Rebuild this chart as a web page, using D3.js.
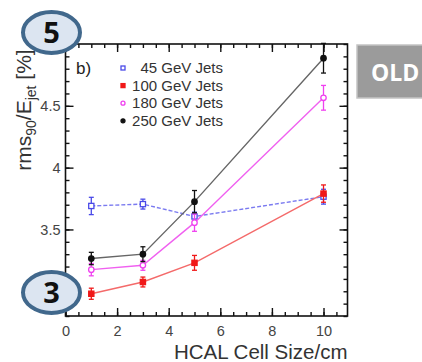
<!DOCTYPE html>
<html>
<head>
<meta charset="utf-8">
<script src="https://cdn.jsdelivr.net/npm/d3@7"></script>
<style>
  body { margin: 0; background: #fff; }
  svg { display: block; font-family: "Liberation Sans", Arial, sans-serif; }
</style>
</head>
<body>
<svg id="chart" width="422" height="362"></svg>
<script>
// data
var cellSizes = [1, 3, 5, 10];
var seriesNames = ["45 GeV Jets", "100 GeV Jets", "180 GeV Jets", "250 GeV Jets"];
var rms45 = [3.69, 3.705, 3.605, 3.765];
var err45 = [0.07, 0.04, 0.035, 0.06];
var rms100 = [2.98, 3.075, 3.23, 3.79];
var err100 = [0.045, 0.04, 0.06, 0.07];
var rms180 = [3.175, 3.21, 3.555, 4.565];
var err180 = [0.05, 0.04, 0.07, 0.1];
var rms250 = [3.265, 3.3, 3.725, 4.885];
var err250 = [0.05, 0.06, 0.09, 0.12];
var xTicks = [0, 2, 4, 6, 8, 10];
var yTicks = [3.5, 4, 4.5];

var svg = d3.select("#chart");
var pLeft = 65.5, pRight = 347.5, pTop = 44, pBottom = 316;

var x = d3.scaleLinear().domain([0, 10.93]).range([pLeft, pRight]);
var y = d3.scaleLinear().domain([2.8, 5.0]).range([pBottom, pTop]);

// styles per series
var styles = [
    {color: "#4a4ae8", line: "#7a7af0", dash: "4,2", shape: "square", fill: "none"},
    {color: "#f01818", line: "#f46a6a", dash: null, shape: "square", fill: "#f01818"},
    {color: "#f040f0", line: "#f060f0", dash: null, shape: "circle", fill: "none"},
    {color: "#111", line: "#666", dash: null, shape: "circle", fill: "#111"}
];
var values = [rms45, rms100, rms180, rms250];
var errors = [err45, err100, err180, err250];

// frame
svg.append("rect")
    .attr("x", pLeft).attr("y", pTop)
    .attr("width", pRight - pLeft).attr("height", pBottom - pTop)
    .attr("fill", "none").attr("stroke", "#111").attr("stroke-width", 1.6);

var minorX = d3.range(0, 10.93, 0.5);
var minorY = d3.range(2.8, 5.001, 0.1);

function tickAxis(axisFn, scale, vals, size, pos, labels) {
    var ax = axisFn(scale).tickValues(vals).tickSizeInner(size).tickSizeOuter(0);
    ax.tickFormat(labels ? d3.format("~g") : "");
    var g = svg.append("g").attr("transform", pos).call(ax);
    g.select(".domain").remove();
    g.selectAll(".tick line").attr("stroke", "#111").attr("stroke-width", 1.4);
    return g;
}

// bottom / top
tickAxis(d3.axisBottom, x, minorX, -4, "translate(0," + pBottom + ")", false);
var xa = tickAxis(d3.axisBottom, x, xTicks, -8, "translate(0," + pBottom + ")", true);
xa.selectAll("text").attr("font-size", 14.5).attr("fill", "#444").attr("y", 10).attr("dy", "0.71em");
tickAxis(d3.axisTop, x, minorX, -4, "translate(0," + pTop + ")", false);
tickAxis(d3.axisTop, x, xTicks, -8, "translate(0," + pTop + ")", false);

// left / right
tickAxis(d3.axisLeft, y, minorY, -4, "translate(" + pLeft + ",0)", false);
var ya = tickAxis(d3.axisLeft, y, yTicks, -8, "translate(" + pLeft + ",0)", true);
ya.selectAll("text").attr("font-size", 14.5).attr("fill", "#444").attr("x", -5);
tickAxis(d3.axisRight, y, minorY, -4, "translate(" + pRight + ",0)", false);
tickAxis(d3.axisRight, y, yTicks, -8, "translate(" + pRight + ",0)", false);

// axis titles
svg.append("text")
    .attr("x", pRight).attr("y", 359)
    .attr("text-anchor", "end")
    .attr("font-size", 20.5).attr("fill", "#333")
    .text("HCAL Cell Size/cm");

var yt = svg.append("text")
    .attr("transform", "translate(31,110) rotate(-90)")
    .attr("text-anchor", "middle")
    .attr("font-size", 21).attr("fill", "#333");
yt.append("tspan").text("rms");
yt.append("tspan").attr("font-size", 14).attr("dy", 5).text("90");
yt.append("tspan").attr("dy", -5).text("/E");
yt.append("tspan").attr("font-size", 14).attr("dy", 5).text("jet");
yt.append("tspan").attr("dy", -5).text(" [%]");

svg.append("text")
    .attr("x", 76).attr("y", 74)
    .attr("font-size", 17).attr("fill", "#222")
    .text("b)");

// series
var line = d3.line()
    .x(function (d) { return x(d[0]); })
    .y(function (d) { return y(d[1]); });

function drawMarker(g, shape, cx, cy, st, size) {
    if (shape === "square") {
        g.append("rect")
            .attr("x", cx - size).attr("y", cy - size)
            .attr("width", size * 2).attr("height", size * 2)
            .attr("fill", st.fill === "none" ? "#fff" : st.fill)
            .attr("stroke", st.color).attr("stroke-width", 1.3);
    } else {
        g.append("circle")
            .attr("cx", cx).attr("cy", cy).attr("r", size)
            .attr("fill", st.fill === "none" ? "#fff" : st.fill)
            .attr("stroke", st.color).attr("stroke-width", 1.3);
    }
}

values.forEach(function (vals, i) {
    var st = styles[i];
    var pts = cellSizes.map(function (c, j) { return [c, vals[j], errors[i][j]]; });
    var g = svg.append("g");
    g.append("path")
        .datum(pts)
        .attr("d", line)
        .attr("fill", "none")
        .attr("stroke", st.line)
        .attr("stroke-width", 1.4)
        .attr("stroke-dasharray", st.dash);
    pts.forEach(function (p) {
        var cx = x(p[0]);
        g.append("line")
            .attr("x1", cx).attr("x2", cx)
            .attr("y1", y(p[1] - p[2])).attr("y2", y(p[1] + p[2]))
            .attr("stroke", st.color).attr("stroke-width", 1.3);
        [p[1] - p[2], p[1] + p[2]].forEach(function (v) {
            g.append("line")
                .attr("x1", cx - 2.5).attr("x2", cx + 2.5)
                .attr("y1", y(v)).attr("y2", y(v))
                .attr("stroke", st.color).attr("stroke-width", 1.3);
        });
        drawMarker(g, st.shape, cx, y(p[1]), st, st.shape === "square" ? 2.6 : 2.7);
    });
});

// legend
var legend = svg.append("g");
seriesNames.forEach(function (name, i) {
    var ly = 68 + i * 17.6;
    drawMarker(legend, styles[i].shape, 123, ly, styles[i], 2);
    legend.append("text")
        .attr("x", 223).attr("y", ly + 5)
        .attr("text-anchor", "end")
        .attr("font-size", 15).attr("fill", "#333")
        .text(name);
});

// slide overlays
function badge(cx, cy, label) {
    svg.append("ellipse")
        .attr("cx", cx).attr("cy", cy).attr("rx", 28.5).attr("ry", 20.5)
        .attr("fill", "#dce5f1").attr("stroke", "#41688c").attr("stroke-width", 4);
    svg.append("text")
        .attr("x", cx).attr("y", cy + 10.5)
        .attr("text-anchor", "middle")
        .attr("font-family", "'Open Sans', 'DejaVu Sans', sans-serif")
        .attr("font-weight", "bold").attr("font-size", 29).attr("fill", "#111")
        .text(label);
}
badge(51.5, 32.5, "5");
badge(51.5, 292.5, "3");

svg.append("rect")
    .attr("x", 357).attr("y", 45).attr("width", 80).attr("height", 53)
    .attr("fill", "#9b9b9b").attr("stroke", "#c4c4c4").attr("stroke-width", 1.5);
svg.append("text")
    .attr("x", 371).attr("y", 80.5)
    .attr("font-family", "'Open Sans', 'DejaVu Sans', sans-serif")
    .attr("font-weight", "bold").attr("font-size", 23).attr("fill", "#fff")
    .text("OLD");
</script>
</body>
</html>
